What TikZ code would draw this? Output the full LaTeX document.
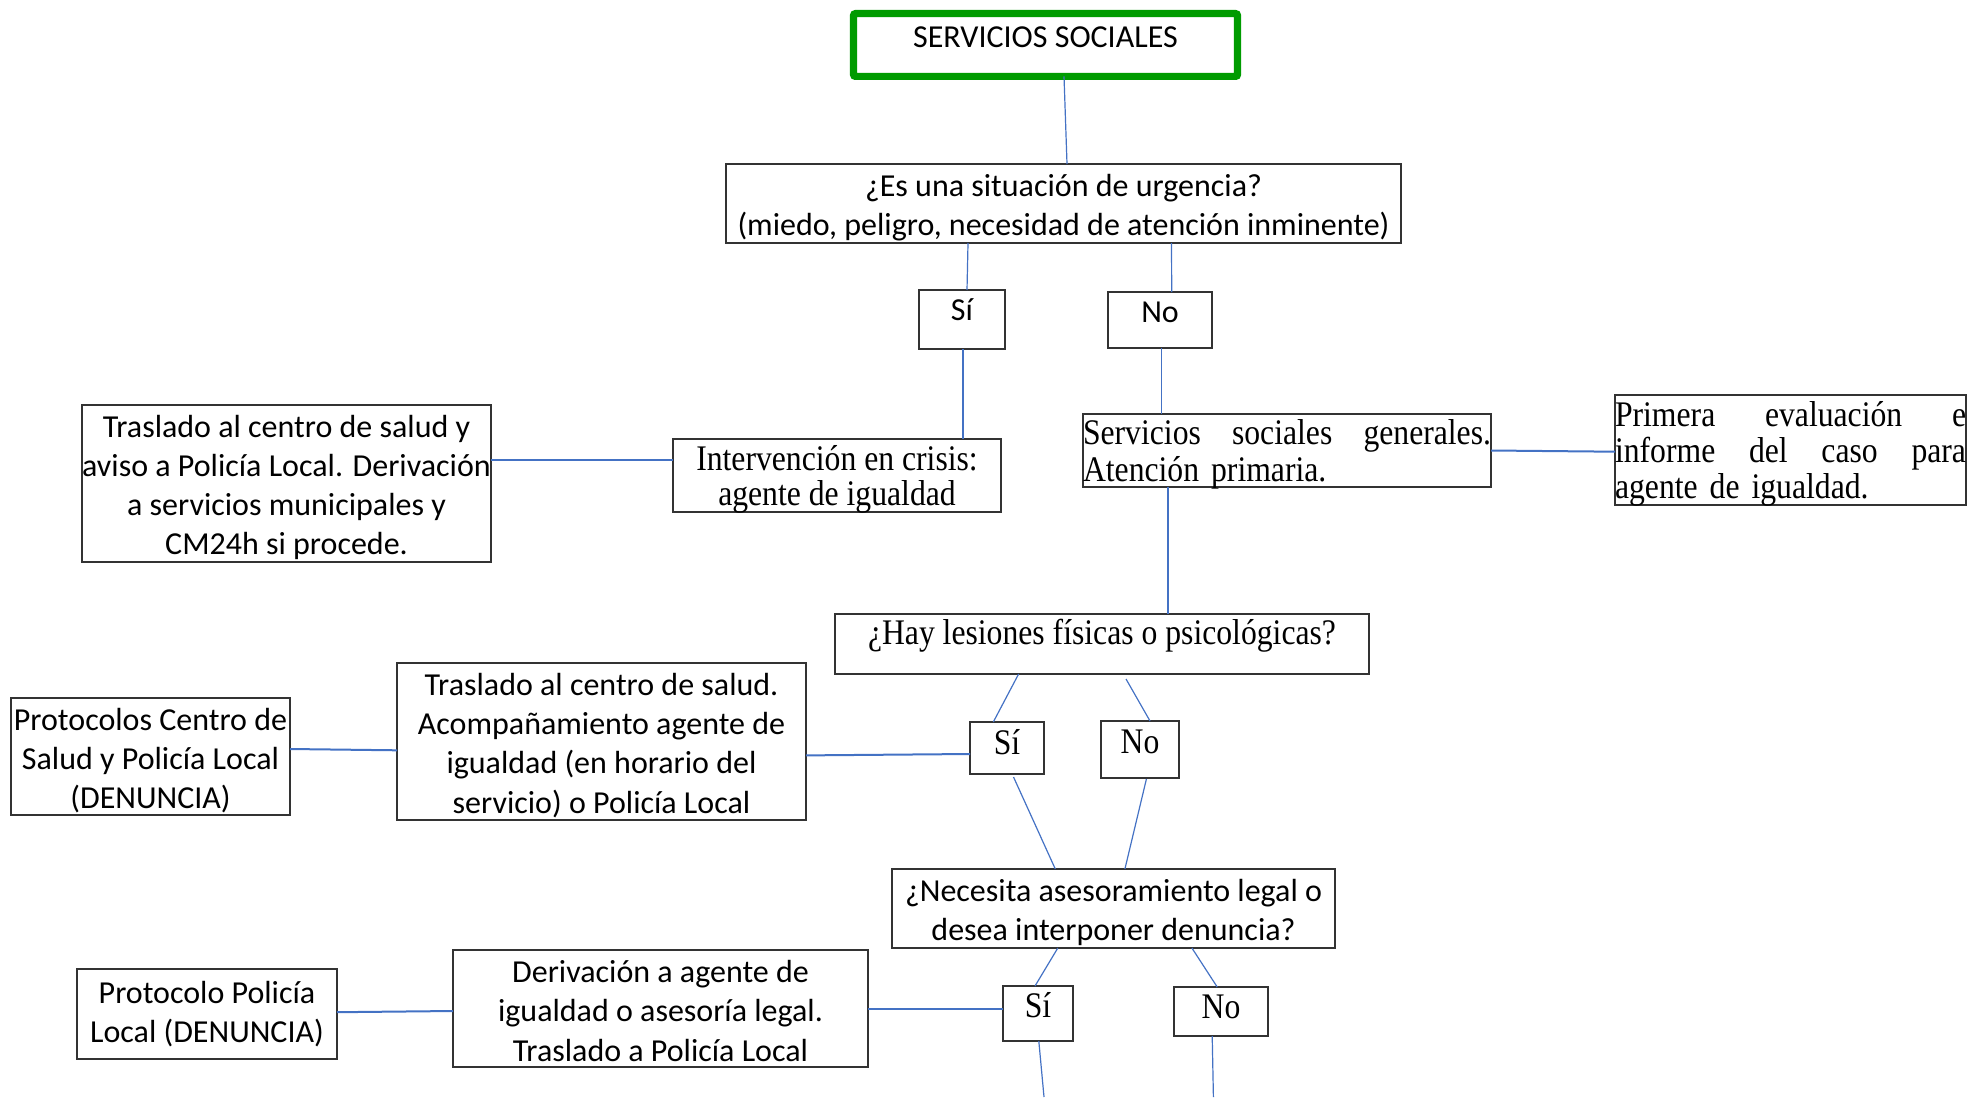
\documentclass[tikz,border=0pt]{standalone}
\usepackage{fontspec}
\setmainfont{Carlito}
\newfontfamily\serifnarrow{Liberation Serif}[FakeStretch=0.88]
\usetikzlibrary{calc}
\definecolor{connc}{RGB}{68,114,196}
\definecolor{sgreen}{RGB}{0,155,0}
\hyphenpenalty=10000
\exhyphenpenalty=10000
\begin{document}
\begin{tikzpicture}[x=0.5pt,y=-0.5pt,
  box/.style={draw=black!80, line width=0.7pt, inner sep=0pt, outer sep=0pt, align=center},
  txt/.style={inner sep=0pt, outer sep=0pt, align=center},
  sansT/.style={font=\fontsize{16pt}{19.6pt}\selectfont},
  serifT/.style={font={\serifnarrow\fontsize{18pt}{17.7pt}\selectfont}},
  conn/.style={draw=connc, line width=0.6pt},
  connh/.style={draw=connc, line width=1pt}]
\useasboundingbox (0,0) rectangle (1984,1097);

% boxes
\node[box, sansT, draw=sgreen, line width=3.6pt, rounded corners=1pt, minimum width=192pt, minimum height=31.4pt, text height=10.3pt, text depth=8pt] (ss) at (1045.5,45) {SERVICIOS SOCIALES};
\node[box, minimum width=337.5pt, minimum height=39.5pt] (urg) at (1063.5,203.5) {};
\node[box, sansT, minimum width=43pt, minimum height=29.5pt, text height=10.3pt, text depth=9.5pt] (si1) at (962,319.5) {Sí};
\node[box, sansT, minimum width=52pt, minimum height=28pt, text height=10.3pt, text depth=7.5pt] (no1) at (1160,320) {No};
\node[box, minimum width=164pt, minimum height=36.5pt] (interv) at (837,475.5) {};
\node[box, minimum width=204.5pt, minimum height=78.5pt] (tras1) at (286.5,483.5) {};
\node[box, minimum width=204pt, minimum height=36.5pt] (ssg) at (1287,450.5) {};
\node[box, minimum width=175.5pt, minimum height=55pt] (prim) at (1790.5,450) {};
\node[box, serifT, minimum width=267pt, minimum height=30pt, text height=11.9pt, text depth=11.3pt] (hay) at (1102,644) {¿Hay lesiones físicas o psicológicas?};
\node[box, serifT, minimum width=37pt, minimum height=26pt, text height=11.9pt, text depth=5.3pt] (si2) at (1007,748) {Sí};
\node[box, serifT, minimum width=39pt, minimum height=28.5pt, text height=11.9pt, text depth=8pt] (no2) at (1140,749.5) {No};
\node[box, minimum width=204.5pt, minimum height=78.5pt] (tras2) at (601.5,741.5) {};
\node[box, minimum width=139.5pt, minimum height=58.5pt] (prot1) at (150.5,756.5) {};
\node[box, minimum width=221.5pt, minimum height=39.5pt] (nec) at (1113.5,908.5) {};
\node[box, serifT, minimum width=35pt, minimum height=27.5pt, text height=11.9pt, text depth=7.5pt] (si3) at (1038,1013.5) {Sí};
\node[box, serifT, minimum width=47pt, minimum height=24.5pt, text height=11.9pt, text depth=4.5pt] (no3) at (1221,1011.5) {No};
\node[box, minimum width=207.5pt, minimum height=58.5pt] (deriv) at (660.5,1008.5) {};
\node[box, minimum width=130pt, minimum height=45pt] (prot2) at (207,1014) {};

% texts of the multi-line boxes
\node[txt, sansT] (urgT) at ([yshift=-1.9pt]urg.center) {¿Es una situación de urgencia?\\(miedo, peligro, necesidad de atención inminente)};
\node[txt, serifT] (intervT) at ([yshift=-2pt]interv.center) {Intervención en crisis:\\agente de igualdad};
\node[txt, sansT] (tras1T) at ([yshift=-1.9pt]tras1.center) {Traslado al centro de salud y\\aviso a Policía Local. Derivación\\a servicios municipales y\\CM24h si procede.};
\node[txt, text width=204pt, align=left, font={\serifnarrow\fontsize{18pt}{18.35pt}\selectfont}] (ssgT) at ([yshift=-2pt]ssg.center) {Servicios\hfill sociales\hfill generales.\\Atención primaria.};
\node[txt, text width=175.5pt, align=left, font={\serifnarrow\fontsize{18pt}{18pt}\selectfont}] (primT) at ([yshift=-1.9pt]prim.center) {Primera\hfill evaluación\hfill e\\informe\hfill del\hfill caso\hfill para\\agente de igualdad.};
\node[txt, sansT] (tras2T) at ([yshift=-1.9pt]tras2.center) {Traslado al centro de salud.\\Acompañamiento agente de\\igualdad (en horario del\\servicio) o Policía Local};
\node[txt, sansT] (prot1T) at ([yshift=-1.9pt]prot1.center) {Protocolos Centro de\\Salud y Policía Local\\(DENUNCIA)};
\node[txt, sansT] (necT) at ([yshift=-1.9pt]nec.center) {¿Necesita asesoramiento legal o\\desea interponer denuncia?};
\node[txt, sansT] (derivT) at ([yshift=-1.2pt]deriv.center) {Derivación a agente de\\igualdad o asesoría legal.\\Traslado a Policía Local};
\node[txt, sansT] (prot2T) at (prot2.center) {Protocolo Policía\\Local (DENUNCIA)};

\coordinate (endA) at (1044,1097);
\coordinate (endB) at (1213.4,1097);

% connectors
\draw[conn] ([xshift=9.25pt]ss.south) -- ([xshift=1.75pt]urg.north);
\draw[conn] ([xshift=-47.75pt]urg.south) -- ([xshift=2.5pt]si1.north);
\draw[conn] ([xshift=54pt]urg.south) -- ([xshift=5.85pt]no1.north);
\draw[conn] ([xshift=0.5pt]si1.south) -- ([xshift=63pt]interv.north);
\draw[connh] ([yshift=12pt]tras1.east) -- ([yshift=8pt]interv.west);
\draw[conn] ([xshift=0.8pt]no1.south) -- ([xshift=-62.7pt]ssg.north);
\draw[connh] (ssg.east) -- ([yshift=-0.85pt]prim.west);
\draw[conn] ([xshift=-59.5pt]ssg.south) -- ([xshift=33pt]hay.north);
\draw[conn] ([xshift=-41.7pt]hay.south) -- ([xshift=-6.85pt]si2.north);
\draw[conn] ([xshift=12pt,yshift=-2.5pt]hay.south) -- ([xshift=5pt]no2.north);
\draw[connh] ([yshift=3.75pt]prot1.east) -- ([yshift=-4.4pt]tras2.west);
\draw[connh] ([yshift=-6.95pt]tras2.east) -- ([yshift=-3pt]si2.west);
\draw[conn] ([xshift=3.25pt,yshift=-1.5pt]si2.south) -- ([xshift=-29.1pt]nec.north);
\draw[conn] ([xshift=3.2pt,yshift=-0.5pt]no2.south) -- ([xshift=5.7pt]nec.north);
\draw[conn] ([xshift=-27.85pt]nec.south) -- ([xshift=-1.5pt]si3.north);
\draw[conn] ([xshift=39.2pt]nec.south) -- ([xshift=-1.9pt]no3.north);
\draw[connh] ([yshift=0.9pt]prot2.east) -- ([yshift=-1.25pt]deriv.west);
\draw[connh] (deriv.east) -- ([yshift=2.5pt]si3.west);
\draw[conn] ([xshift=0.4pt]si3.south) -- (endA);
\draw[conn] ([xshift=-4.4pt]no3.south) -- (endB);
\end{tikzpicture}
\end{document}
